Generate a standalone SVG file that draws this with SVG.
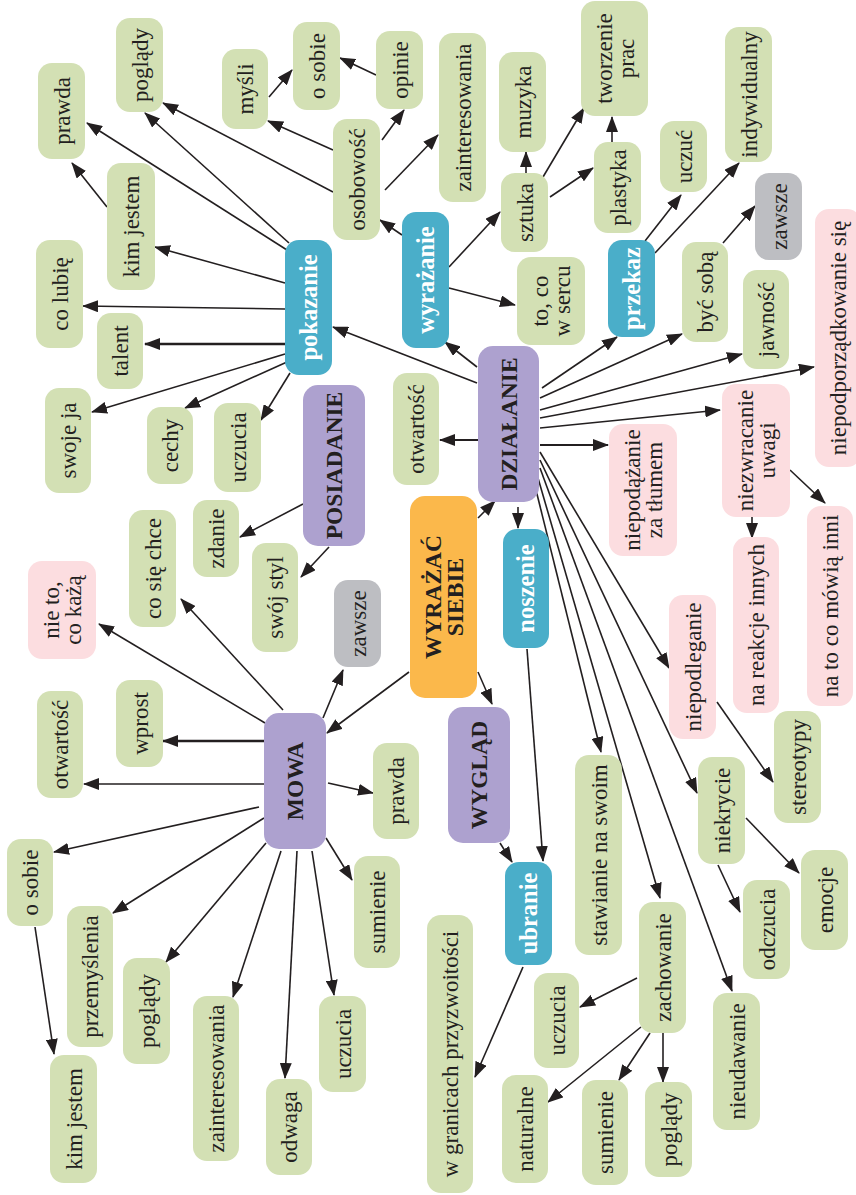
<svg xmlns="http://www.w3.org/2000/svg" width="856" height="1195" viewBox="0 0 856 1195">
<defs>
<marker id="ah" markerUnits="userSpaceOnUse" markerWidth="16" markerHeight="12" refX="15" refY="6" orient="auto">
<path d="M0,0 L16,6 L0,12 z" fill="#231f20"/>
</marker>
<style>
.g rect{fill:#d3e0b4}
.b rect{fill:#4aaec9}
.p rect{fill:#ada1cf}
.o rect{fill:#fbb84b}
.k rect{fill:#fcdde0}
.s rect{fill:#bdbec2}
text{font-family:"Liberation Serif","Times New Roman",serif;font-size:23px;fill:#231f20;text-anchor:middle}
.b text{fill:#ffffff;font-weight:bold;font-size:24.5px}
.p text,.o text{font-weight:bold;font-size:23.5px}
#edges line{stroke:#231f20;stroke-width:1.6;marker-end:url(#ah)}
</style>
</defs>
<rect width="856" height="1195" fill="#ffffff"/>
<g id="edges">
<line x1="287" y1="250" x2="87" y2="123"/>
<line x1="289" y1="243" x2="145" y2="113"/>
<line x1="285" y1="283" x2="155" y2="247"/>
<line x1="285" y1="309" x2="83" y2="306"/>
<line x1="285" y1="344" x2="145" y2="344" style="stroke-width:2.4"/>
<line x1="285" y1="354" x2="92" y2="412"/>
<line x1="287" y1="362" x2="185" y2="408"/>
<line x1="290" y1="373" x2="261" y2="420"/>
<line x1="107" y1="207" x2="72" y2="163"/>
<line x1="333" y1="150" x2="268" y2="121"/>
<line x1="333" y1="192" x2="163" y2="103"/>
<line x1="382" y1="140" x2="404" y2="110"/>
<line x1="385" y1="190" x2="438" y2="135"/>
<line x1="376" y1="75" x2="340" y2="58"/>
<line x1="269" y1="97" x2="292" y2="70"/>
<line x1="402" y1="235" x2="380" y2="220"/>
<line x1="449" y1="267" x2="500" y2="212"/>
<line x1="449" y1="288" x2="515" y2="305"/>
<line x1="526" y1="173" x2="526" y2="152"/>
<line x1="543" y1="177" x2="584" y2="108"/>
<line x1="550" y1="197" x2="593" y2="168"/>
<line x1="612" y1="142" x2="612" y2="117"/>
<line x1="645" y1="241" x2="681" y2="195"/>
<line x1="655" y1="253" x2="739" y2="163"/>
<line x1="723" y1="243" x2="755" y2="206"/>
<line x1="477" y1="367" x2="445" y2="342"/>
<line x1="477" y1="383" x2="333" y2="327"/>
<line x1="478" y1="440" x2="440" y2="440" style="stroke-width:2.2"/>
<line x1="542" y1="388" x2="617" y2="337"/>
<line x1="540" y1="398" x2="682" y2="334"/>
<line x1="540" y1="410" x2="742" y2="354"/>
<line x1="540" y1="418" x2="814" y2="367"/>
<line x1="540" y1="428" x2="720" y2="410"/>
<line x1="540" y1="445" x2="608" y2="445" style="stroke-width:2.2"/>
<line x1="518" y1="507" x2="518" y2="528"/>
<line x1="478" y1="518" x2="495" y2="501"/>
<line x1="540" y1="452" x2="669" y2="668"/>
<line x1="540" y1="460" x2="697" y2="793"/>
<line x1="540" y1="468" x2="732" y2="991"/>
<line x1="538" y1="478" x2="660" y2="898"/>
<line x1="536" y1="490" x2="601" y2="752"/>
<line x1="752" y1="517" x2="752" y2="538"/>
<line x1="790" y1="470" x2="825" y2="503"/>
<line x1="717" y1="702" x2="773" y2="782"/>
<line x1="746" y1="818" x2="799" y2="873"/>
<line x1="718" y1="865" x2="740" y2="912"/>
<line x1="637" y1="978" x2="580" y2="1007"/>
<line x1="641" y1="1027" x2="548" y2="1102"/>
<line x1="650" y1="1033" x2="619" y2="1080"/>
<line x1="663" y1="1033" x2="663" y2="1082"/>
<line x1="527" y1="649" x2="543" y2="861"/>
<line x1="500" y1="843" x2="512" y2="862"/>
<line x1="478" y1="672" x2="492" y2="704"/>
<line x1="523" y1="967" x2="475" y2="1077"/>
<line x1="409" y1="672" x2="327" y2="733"/>
<line x1="323" y1="718" x2="343" y2="670"/>
<line x1="328" y1="783" x2="373" y2="793"/>
<line x1="326" y1="838" x2="352" y2="880"/>
<line x1="283" y1="710" x2="181" y2="599"/>
<line x1="265" y1="723" x2="99" y2="624"/>
<line x1="264" y1="741" x2="163" y2="741" style="stroke-width:2.4"/>
<line x1="264" y1="784" x2="84" y2="784"/>
<line x1="259" y1="807" x2="54" y2="852"/>
<line x1="264" y1="818" x2="113" y2="913"/>
<line x1="266" y1="843" x2="166" y2="962"/>
<line x1="281" y1="851" x2="233" y2="997"/>
<line x1="297" y1="851" x2="285" y2="1078"/>
<line x1="312" y1="851" x2="334" y2="995"/>
<line x1="35" y1="927" x2="54" y2="1054"/>
<line x1="303" y1="504" x2="240" y2="537"/>
<line x1="329" y1="547" x2="301" y2="577"/>
</g>
<g id="prawda1" class="g"><rect x="38" y="63" width="47" height="96" rx="14"/><text transform="translate(61.5,111) rotate(-90)" y="8">prawda</text></g>
<g id="poglady1" class="g"><rect x="116" y="18" width="47" height="94" rx="14"/><text transform="translate(139.5,65) rotate(-90)" y="8">poglądy</text></g>
<g id="mysli" class="g"><rect x="222" y="49" width="46" height="80" rx="14"/><text transform="translate(245,89) rotate(-90)" y="8">myśli</text></g>
<g id="kimjestem1" class="g"><rect x="107" y="163" width="48" height="127" rx="14"/><text transform="translate(131,226.5) rotate(-90)" y="8">kim jestem</text></g>
<g id="colubie" class="g"><rect x="36" y="240" width="47" height="108" rx="14"/><text transform="translate(59.5,294) rotate(-90)" y="8">co lubię</text></g>
<g id="osobie1" class="g"><rect x="293" y="22" width="47" height="88" rx="14"/><text transform="translate(316.5,66) rotate(-90)" y="8">o sobie</text></g>
<g id="opinie" class="g"><rect x="376" y="31" width="47" height="78" rx="14"/><text transform="translate(399.5,70) rotate(-90)" y="8">opinie</text></g>
<g id="zainteresowania1" class="g"><rect x="439" y="33" width="47" height="169" rx="14"/><text transform="translate(462.5,117.5) rotate(-90)" y="8">zainteresowania</text></g>
<g id="muzyka" class="g"><rect x="499" y="52" width="47" height="100" rx="14"/><text transform="translate(522.5,102) rotate(-90)" y="8">muzyka</text></g>
<g id="osobowosc" class="g"><rect x="333" y="119" width="47" height="121" rx="14"/><text transform="translate(356.5,179.5) rotate(-90)" y="8">osobowość</text></g>
<g id="wyrazanie" class="b"><rect x="402" y="212" width="47" height="136" rx="14"/><text transform="translate(425.5,280) rotate(-90)" y="8">wyrażanie</text></g>
<g id="sztuka" class="g"><rect x="501" y="173" width="47" height="79" rx="14"/><text transform="translate(524.5,212.5) rotate(-90)" y="8">sztuka</text></g>
<g id="tocowsercu" class="g"><rect x="517" y="257" width="68" height="88" rx="14"/><text transform="translate(551,301) rotate(-90)"><tspan x="0" y="-3">to, co</tspan><tspan x="0" y="19">w sercu</tspan></text></g>
<g id="tworzenieprac" class="g"><rect x="581" y="1" width="67" height="115" rx="14"/><text transform="translate(614.5,58.5) rotate(-90)"><tspan x="0" y="-3">tworzenie</tspan><tspan x="0" y="19">prac</tspan></text></g>
<g id="plastyka" class="g"><rect x="594" y="142" width="47" height="91" rx="14"/><text transform="translate(617.5,187.5) rotate(-90)" y="8">plastyka</text></g>
<g id="uczuc" class="g"><rect x="660" y="121" width="47" height="71" rx="14"/><text transform="translate(683.5,156.5) rotate(-90)" y="8">uczuć</text></g>
<g id="indywidualny" class="g"><rect x="725" y="27" width="47" height="135" rx="14"/><text transform="translate(748.5,94.5) rotate(-90)" y="8">indywidualny</text></g>
<g id="zawsze1" class="s"><rect x="755" y="173" width="47" height="87" rx="14"/><text transform="translate(778.5,216.5) rotate(-90)" y="8">zawsze</text></g>
<g id="przekaz" class="b"><rect x="608" y="240" width="47" height="97" rx="14"/><text transform="translate(631.5,288.5) rotate(-90)" y="8">przekaz</text></g>
<g id="bycsoba" class="g"><rect x="682" y="242" width="46" height="100" rx="14"/><text transform="translate(705,292) rotate(-90)" y="8">być sobą</text></g>
<g id="jawnosc" class="g"><rect x="743" y="270" width="46" height="99" rx="14"/><text transform="translate(766,319.5) rotate(-90)" y="8">jawność</text></g>
<g id="niepodporzadkowanie" class="k"><rect x="815" y="209" width="46" height="258" rx="14"/><text transform="translate(838,338) rotate(-90)" y="8">niepodporządkowanie się</text></g>
<g id="talent" class="g"><rect x="97" y="313" width="46" height="76" rx="14"/><text transform="translate(120,351) rotate(-90)" y="8">talent</text></g>
<g id="swojeja" class="g"><rect x="45" y="388" width="46" height="105" rx="14"/><text transform="translate(68,440.5) rotate(-90)" y="8">swoje ja</text></g>
<g id="cechy" class="g"><rect x="147" y="407" width="46" height="77" rx="14"/><text transform="translate(170,445.5) rotate(-90)" y="8">cechy</text></g>
<g id="uczucia1" class="g"><rect x="214" y="403" width="47" height="89" rx="14"/><text transform="translate(237.5,447.5) rotate(-90)" y="8">uczucia</text></g>
<g id="zdanie" class="g"><rect x="193" y="500" width="46" height="77" rx="14"/><text transform="translate(216,538.5) rotate(-90)" y="8">zdanie</text></g>
<g id="cosiechce" class="g"><rect x="129" y="510" width="47" height="117" rx="14"/><text transform="translate(152.5,568.5) rotate(-90)" y="8">co się chce</text></g>
<g id="nietocokaza" class="k"><rect x="28" y="561" width="68" height="98" rx="14"/><text transform="translate(62,610) rotate(-90)"><tspan x="0" y="-3">nie to,</tspan><tspan x="0" y="19">co każą</tspan></text></g>
<g id="swojstyl" class="g"><rect x="252" y="543" width="46" height="109" rx="14"/><text transform="translate(275,597.5) rotate(-90)" y="8">swój styl</text></g>
<g id="pokazanie" class="b"><rect x="285" y="240" width="47" height="135" rx="14"/><text transform="translate(308.5,307.5) rotate(-90)" y="8">pokazanie</text></g>
<g id="posiadanie" class="p"><rect x="303" y="385" width="62" height="161" rx="15"/><text transform="translate(334,465.5) rotate(-90)" y="8">POSIADANIE</text></g>
<g id="otwartosc1" class="g"><rect x="393" y="373" width="46" height="112" rx="14"/><text transform="translate(416,429) rotate(-90)" y="8">otwartość</text></g>
<g id="dzialanie" class="p"><rect x="478" y="346" width="61" height="156" rx="15"/><text transform="translate(508.5,424) rotate(-90)" y="8">DZIAŁANIE</text></g>
<g id="wyrazacsiebie" class="o"><rect x="410" y="496" width="67" height="202" rx="15"/><text transform="translate(443.5,597) rotate(-90)"><tspan x="0" y="-3">WYRAŻAĆ</tspan><tspan x="0" y="19">SIEBIE</tspan></text></g>
<g id="noszenie" class="b"><rect x="503" y="529" width="46" height="119" rx="14"/><text transform="translate(526,588.5) rotate(-90)" y="8">noszenie</text></g>
<g id="zawsze2" class="s"><rect x="334" y="580" width="47" height="87" rx="14"/><text transform="translate(357.5,623.5) rotate(-90)" y="8">zawsze</text></g>
<g id="niepodazanie" class="k"><rect x="609" y="424" width="68" height="132" rx="14"/><text transform="translate(643,490) rotate(-90)"><tspan x="0" y="-3">niepodążanie</tspan><tspan x="0" y="19">za tłumem</tspan></text></g>
<g id="niezwracanie" class="k"><rect x="722" y="384" width="68" height="133" rx="14"/><text transform="translate(756,450.5) rotate(-90)"><tspan x="0" y="-3">niezwracanie</tspan><tspan x="0" y="19">uwagi</tspan></text></g>
<g id="nareakcje" class="k"><rect x="733" y="537" width="46" height="176" rx="14"/><text transform="translate(756,625) rotate(-90)" y="8">na reakcje innych</text></g>
<g id="natoco" class="k"><rect x="807" y="506" width="46" height="200" rx="14"/><text transform="translate(830,606) rotate(-90)" y="8">na to co mówią inni</text></g>
<g id="wprost" class="g"><rect x="116" y="680" width="47" height="87" rx="14"/><text transform="translate(139.5,723.5) rotate(-90)" y="8">wprost</text></g>
<g id="otwartosc2" class="g"><rect x="37" y="691" width="46" height="107" rx="14"/><text transform="translate(60,744.5) rotate(-90)" y="8">otwartość</text></g>
<g id="mowa" class="p"><rect x="264" y="713" width="62" height="136" rx="15"/><text transform="translate(295,781) rotate(-90)" y="8">MOWA</text></g>
<g id="osobie2" class="g"><rect x="7" y="839" width="46" height="87" rx="14"/><text transform="translate(30,882.5) rotate(-90)" y="8">o sobie</text></g>
<g id="prawda2" class="g"><rect x="373" y="743" width="46" height="96" rx="14"/><text transform="translate(396,791) rotate(-90)" y="8">prawda</text></g>
<g id="wyglad" class="p"><rect x="448" y="707" width="62" height="136" rx="15"/><text transform="translate(479,775) rotate(-90)" y="8">WYGLĄD</text></g>
<g id="ubranie" class="b"><rect x="505" y="862" width="47" height="103" rx="14"/><text transform="translate(528.5,913.5) rotate(-90)" y="8">ubranie</text></g>
<g id="sumienie1" class="g"><rect x="354" y="856" width="46" height="112" rx="14"/><text transform="translate(377,912) rotate(-90)" y="8">sumienie</text></g>
<g id="niepodleganie" class="k"><rect x="669" y="595" width="47" height="144" rx="14"/><text transform="translate(692.5,667) rotate(-90)" y="8">niepodleganie</text></g>
<g id="stereotypy" class="g"><rect x="774" y="711" width="47" height="112" rx="14"/><text transform="translate(797.5,767) rotate(-90)" y="8">stereotypy</text></g>
<g id="niekrycie" class="g"><rect x="698" y="757" width="47" height="107" rx="14"/><text transform="translate(721.5,810.5) rotate(-90)" y="8">niekrycie</text></g>
<g id="stawianie" class="g"><rect x="575" y="755" width="47" height="200" rx="14"/><text transform="translate(598.5,855) rotate(-90)" y="8">stawianie na swoim</text></g>
<g id="emocje" class="g"><rect x="801" y="850" width="47" height="100" rx="14"/><text transform="translate(824.5,900) rotate(-90)" y="8">emocje</text></g>
<g id="odczucia" class="g"><rect x="743" y="880" width="47" height="99" rx="14"/><text transform="translate(766.5,929.5) rotate(-90)" y="8">odczucia</text></g>
<g id="przemyslenia" class="g"><rect x="67" y="906" width="46" height="141" rx="14"/><text transform="translate(90,976.5) rotate(-90)" y="8">przemyślenia</text></g>
<g id="poglady2" class="g"><rect x="123" y="958" width="47" height="106" rx="14"/><text transform="translate(146.5,1011) rotate(-90)" y="8">poglądy</text></g>
<g id="zainteresowania2" class="g"><rect x="193" y="996" width="46" height="165" rx="14"/><text transform="translate(216,1078.5) rotate(-90)" y="8">zainteresowania</text></g>
<g id="kimjestem2" class="g"><rect x="50" y="1055" width="47" height="128" rx="14"/><text transform="translate(73.5,1119) rotate(-90)" y="8">kim jestem</text></g>
<g id="odwaga" class="g"><rect x="266" y="1079" width="46" height="96" rx="14"/><text transform="translate(289,1127) rotate(-90)" y="8">odwaga</text></g>
<g id="uczucia2" class="g"><rect x="319" y="996" width="47" height="96" rx="14"/><text transform="translate(342.5,1044) rotate(-90)" y="8">uczucia</text></g>
<g id="wgranicach" class="g"><rect x="427" y="915" width="46" height="278" rx="14"/><text transform="translate(450,1054) rotate(-90)" y="8">w granicach przyzwoitości</text></g>
<g id="naturalne" class="g"><rect x="502" y="1075" width="46" height="108" rx="14"/><text transform="translate(525,1129) rotate(-90)" y="8">naturalne</text></g>
<g id="uczucia3" class="g"><rect x="534" y="973" width="45" height="95" rx="14"/><text transform="translate(556.5,1020.5) rotate(-90)" y="8">uczucia</text></g>
<g id="zachowanie" class="g"><rect x="639" y="902" width="47" height="131" rx="14"/><text transform="translate(662.5,967.5) rotate(-90)" y="8">zachowanie</text></g>
<g id="sumienie2" class="g"><rect x="582" y="1080" width="46" height="105" rx="14"/><text transform="translate(605,1132.5) rotate(-90)" y="8">sumienie</text></g>
<g id="poglady3" class="g"><rect x="645" y="1082" width="47" height="95" rx="14"/><text transform="translate(668.5,1129.5) rotate(-90)" y="8">poglądy</text></g>
<g id="nieudawanie" class="g"><rect x="713" y="993" width="47" height="137" rx="14"/><text transform="translate(736.5,1061.5) rotate(-90)" y="8">nieudawanie</text></g>
</svg>
